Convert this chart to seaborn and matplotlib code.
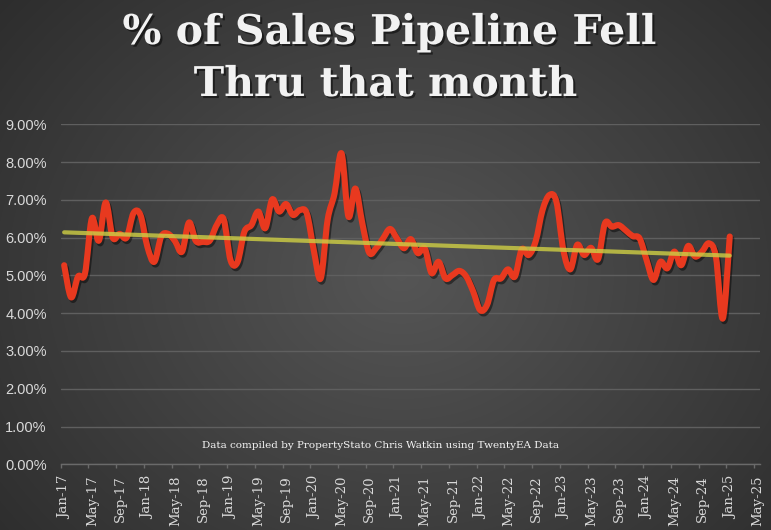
import numpy as np
import pandas as pd
import matplotlib
matplotlib.use("Agg")
import matplotlib.pyplot as plt
import matplotlib.patheffects as pe
import matplotlib.transforms as mtransforms
from matplotlib.path import Path
from matplotlib.patches import PathPatch
import seaborn as sns

# ---------------- data ----------------
title_lines = ["% of Sales Pipeline Fell", "Thru that month"]
source_note = "Data compiled by PropertyStato Chris Watkin using TwentyEA Data"

# monthly % of sales pipeline that fell through, Jan-17 .. Jan-25
pct_fell = [
    5.27, 4.42, 4.97, 5.05, 6.51, 5.92, 6.93, 6.00, 6.10, 6.00, 6.65, 6.60,   # 2017
    5.76, 5.36, 6.03, 6.10, 5.90, 5.63, 6.40, 5.91, 5.89, 5.92, 6.33, 6.49,   # 2018
    5.40, 5.35, 6.16, 6.33, 6.69, 6.25, 7.01, 6.69, 6.89, 6.60, 6.73, 6.64,   # 2019
    5.67, 4.92, 6.47, 7.17, 8.23, 6.56, 7.30, 6.38, 5.60, 5.72, 5.98, 6.23,   # 2020
    5.98, 5.72, 5.96, 5.59, 5.72, 5.06, 5.36, 4.92, 5.01, 5.12, 4.97, 4.57,   # 2021
    4.08, 4.22, 4.88, 4.92, 5.16, 4.97, 5.69, 5.54, 5.90, 6.73, 7.13, 6.95,   # 2022
    5.67, 5.16, 5.81, 5.54, 5.73, 5.43, 6.38, 6.29, 6.33, 6.19, 6.04, 5.98,   # 2023
    5.41, 4.88, 5.36, 5.19, 5.63, 5.27, 5.78, 5.50, 5.63, 5.85, 5.50, 3.86,   # 2024
    6.03,                                                                      # 2025
]
tick_labels = [
    "Jan-17", "May-17", "Sep-17", "Jan-18", "May-18", "Sep-18", "Jan-19",
    "May-19", "Sep-19", "Jan-20", "May-20", "Sep-20", "Jan-21", "May-21",
    "Sep-21", "Jan-22", "May-22", "Sep-22", "Jan-23", "May-23", "Sep-23",
    "Jan-24", "May-24", "Sep-24", "Jan-25", "May-25",
]
y_ticks = [0, 1, 2, 3, 4, 5, 6, 7, 8, 9]

# ---------------- style ----------------
sns.set_theme(style="dark")
plt.rcParams["font.family"] = ["DejaVu Serif", "DejaVu Sans"]

W, H = 771, 530
fig = plt.figure(figsize=(W / 100, H / 100), dpi=100)

# radial dark-grey background
bg = fig.add_axes([0, 0, 1, 1], zorder=-10)
yy, xx = np.mgrid[0:H, 0:W]
r = np.sqrt(((xx - W * 0.52) / (W * 0.62)) ** 2 + ((yy - H * 0.52) / (H * 0.75)) ** 2)
g = np.clip(0.335 - 0.145 * r, 0.15, 0.4)
bg.imshow(np.dstack([g, g, g]), aspect="auto", extent=[0, 1, 0, 1])
bg.axis("off")

ax = fig.add_axes([60.7 / W, 1 - 464.3 / H, (760 - 60.7) / W, 340 / H])
ax.patch.set_alpha(0)

df = pd.DataFrame({"month": np.arange(len(pct_fell)) + 0.5, "pct": pct_fell})

# smoothed (Catmull-Rom as cubic Bezier) red series
pts = df[["month", "pct"]].to_numpy()
n = len(pts)
verts = [tuple(pts[0])]
codes = [Path.MOVETO]
for i in range(n - 1):
    p0 = pts[max(i - 1, 0)]
    p1 = pts[i]
    p2 = pts[i + 1]
    p3 = pts[min(i + 2, n - 1)]
    c1 = p1 + (p2 - p0) / 6.0
    c2 = p2 - (p3 - p1) / 6.0
    verts += [tuple(c1), tuple(c2), tuple(p2)]
    codes += [Path.CURVE4] * 3
red = PathPatch(Path(verts, codes), fill=False, edgecolor="#e8391f", lw=4.4,
                capstyle="round", joinstyle="round", zorder=3)
red.set_path_effects([pe.SimpleLineShadow(offset=(1.2, -1.8), shadow_color="black", alpha=0.45),
                      pe.Normal()])
ax.add_patch(red)

# linear trend line
sns.regplot(data=df, x="month", y="pct", scatter=False, ci=None, ax=ax,
            line_kws=dict(color="#cccc44", lw=3.0, alpha=0.82,
                          solid_capstyle="round", zorder=4))

ax.set_xlim(0, (760 - 60.7) / 6.933)
ax.set_ylim(0, 9)
ax.set_xticks(np.arange(0, 4 * len(tick_labels), 4))
ax.set_xticklabels(tick_labels, rotation=90)
ax.set_yticks(y_ticks)
ax.set_yticklabels([f"{v:.2f}%" for v in y_ticks], family=["Liberation Sans", "DejaVu Sans"])
ax.set_xlabel("")
ax.set_ylabel("")

ax.yaxis.grid(True, color="#5f5f5f", lw=1.0)
ax.xaxis.grid(False)
for s in ["left", "right", "top"]:
    ax.spines[s].set_visible(False)
ax.spines["bottom"].set_color("#6a6a6a")
ax.spines["bottom"].set_linewidth(1.0)
ax.tick_params(axis="x", bottom=True, length=3, width=1, color="#6a6a6a",
               direction="out", labelcolor="#d9d9d9", labelsize=9.5, pad=5)
ax.tick_params(axis="y", left=False, length=0, labelcolor="#d9d9d9",
               labelsize=10.5, pad=10)

shift = mtransforms.ScaledTranslation(4 / 100, 0, fig.dpi_scale_trans)
for lab in ax.get_xticklabels():
    lab.set_transform(lab.get_transform() + shift)

shadow = [pe.SimplePatchShadow(offset=(1.5, -1.5), shadow_rgbFace="black", alpha=0.5), pe.Normal()]
fig.text(0.505, 1 - 33 / H, title_lines[0], ha="center", va="center", fontsize=29.5,
         fontweight="bold", color="#f2f2f2", path_effects=shadow)
fig.text(0.5, 1 - 85 / H, title_lines[1], ha="center", va="center", fontsize=29.5,
         fontweight="bold", color="#f2f2f2", path_effects=shadow)
fig.text(380.5 / W, 1 - 445 / H, source_note, ha="center", va="center",
         fontsize=7.5, color="#f5f5f5")

fig.savefig("out.png", dpi=100)
